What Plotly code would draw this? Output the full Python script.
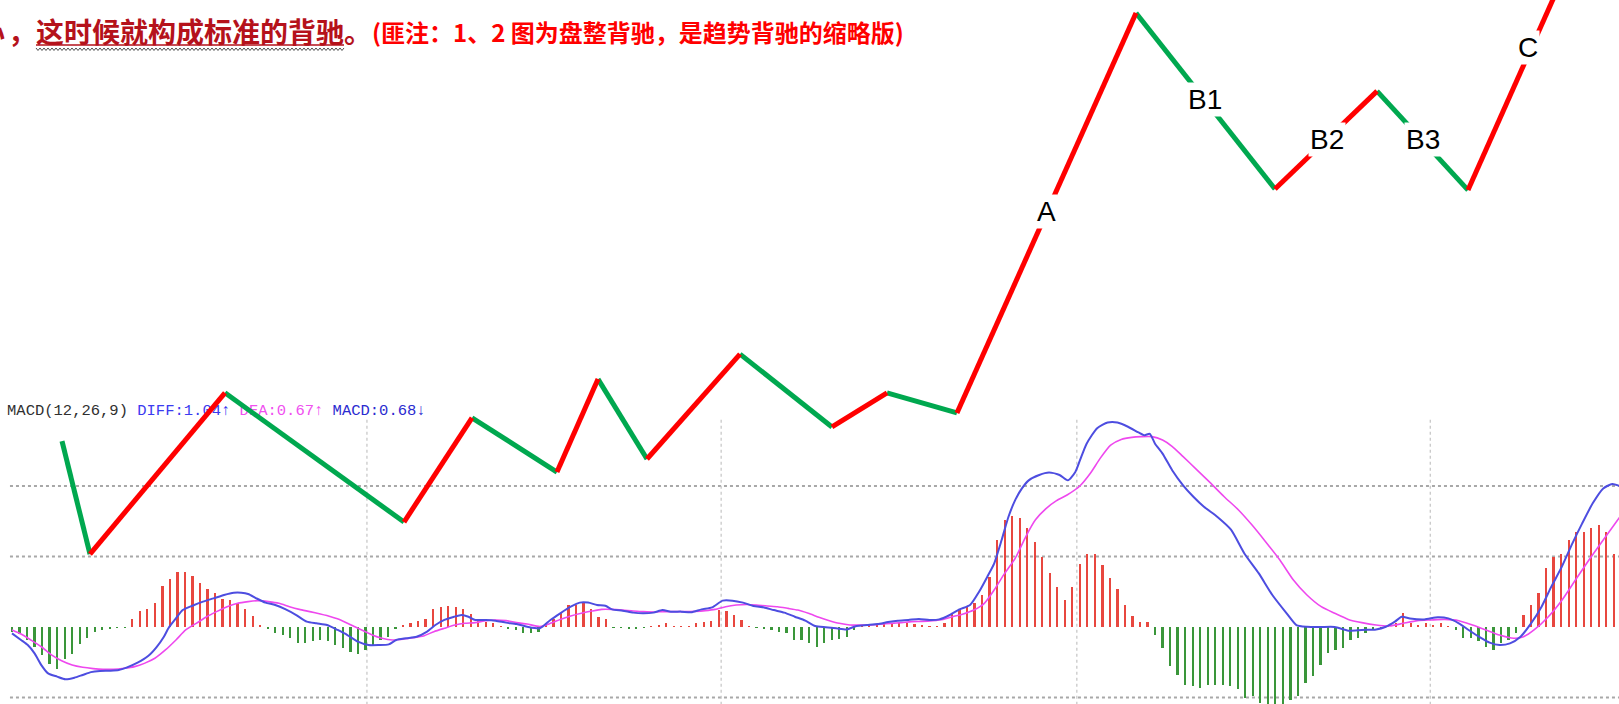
import plotly.graph_objects as go

# ---------------- data ----------------
# zig-zag pivots (bar index, price)
PIVOT_X = [6.65, 10.37, 28.32, 52.13, 61.17, 72.47, 77.93, 84.44, 96.81, 109.04,
           116.36, 125.66, 149.47, 167.95, 181.52, 193.62, 206.65]
PIVOT_P = [7.47, 4.26, 8.84, 5.17, 8.13, 6.59, 9.23, 6.96, 9.94, 7.87,
           8.84, 8.27, 19.63, 14.63, 17.41, 14.60, 20.85]

SEG_LABELS = ["A", "B1", "B2", "B3", "C"]
SEG_LABEL_X = [137.6, 158.6, 174.9, 187.6, 201.6]
SEG_LABEL_P = [13.98, 17.16, 16.05, 16.05, 18.64]

# MACD histogram, one value per bar (index 0..213)
MACD_HIST = [
    -0.033, -0.05, -0.09, -0.14, -0.20, -0.26, -0.30, -0.23, -0.19, -0.12,
    -0.076, -0.033, -0.02, -0.012, -0.007, -0.005, 0.054, 0.11, 0.125, 0.17,
    0.29, 0.34, 0.39, 0.39, 0.36, 0.31, 0.27, 0.24, 0.20, 0.19,
    0.17, 0.13, 0.08, 0.014, -0.01, -0.045, -0.057, -0.08, -0.116, -0.116,
    -0.10, -0.09, -0.10, -0.13, -0.15, -0.175, -0.19, -0.16, -0.13, -0.09,
    -0.07, -0.01, 0.014, 0.03, 0.045, 0.06, 0.125, 0.14, 0.15, 0.145,
    0.125, 0.09, 0.054, 0.038, 0.026, 0.007, -0.01, -0.02, -0.045, -0.045,
    -0.033, 0.026, 0.06, 0.10, 0.156, 0.156, 0.168, 0.13, 0.073, 0.06,
    -0.003, -0.005, -0.01, -0.01, -0.005, 0.002, 0.014, 0.026, 0.007, 0.002,
    0.002, 0.026, 0.038, 0.045, 0.12, 0.11, 0.085, 0.05, 0.007, -0.002,
    -0.01, -0.02, -0.033, -0.04, -0.09, -0.09, -0.116, -0.14, -0.116, -0.09,
    -0.087, -0.07, -0.02, 0.002, 0.01, 0.015, 0.02, 0.026, 0.03, 0.026,
    0.021, 0.014, 0.007, 0.007, 0.026, 0.097, 0.12, 0.144, 0.168, 0.227,
    0.357, 0.617, 0.76, 0.79, 0.77, 0.70, 0.60, 0.50, 0.38, 0.286,
    0.19, 0.286, 0.45, 0.52, 0.52, 0.44, 0.345, 0.267, 0.156, 0.078,
    0.038, 0.035, -0.057, -0.15, -0.28, -0.34, -0.41, -0.42, -0.435, -0.41,
    -0.41, -0.41, -0.42, -0.44, -0.50, -0.49, -0.54, -0.56, -0.57, -0.57,
    -0.52, -0.49, -0.40, -0.35, -0.27, -0.187, -0.163, -0.15, -0.09, -0.08,
    -0.045, -0.02, -0.01, 0.002, 0.026, 0.10, 0.026, 0.014, 0.026, 0.014,
    0.026, 0.007, -0.02, -0.08, -0.08, -0.10, -0.14, -0.163, -0.116, -0.09,
    -0.045, 0.085, 0.156, 0.24, 0.416, 0.50, 0.52, 0.617, 0.676, 0.676,
    0.70, 0.72, 0.676, 0.52,
]

DIFF_X = [0, 1.2, 2.1, 3.0, 3.9, 4.8, 6.0, 7.1, 8.3, 9.4, 10.5, 11.7, 13.0, 14.2, 15.3,
          16.7, 18.1, 19.2, 20.2, 20.8, 21.8, 22.7, 24.0, 25.4, 26.8, 28.2, 29.5, 30.5,
          31.4, 32.5, 33.7, 35.0, 36.4, 37.8, 39.2, 40.5, 41.9, 43.3, 44.6, 46.0, 47.4,
          48.8, 50.1, 51.1, 52.4, 53.8, 55.2, 56.3, 57.5, 58.8, 59.8, 60.7, 61.6, 63.0,
          64.3, 65.7, 67.1, 68.5, 70.2, 71.6, 72.9, 74.3, 75.5, 76.6, 77.8, 78.9, 79.8,
          81.2, 82.6, 83.9, 85.3, 86.5, 87.6, 89.0, 90.3, 91.7, 93.1, 94.5, 95.8, 97.2,
          98.6, 100.0, 101.3, 102.7, 104.1, 105.5, 106.8, 108.2, 109.6, 111.0, 112.3,
          113.7, 115.1, 116.5, 117.8, 119.2, 120.6, 122.0, 123.3, 124.7, 126.0, 127.4,
          128.6, 129.7, 130.6, 131.6, 132.5, 133.4, 134.3, 135.2, 136.6, 137.9, 139.3,
          140.4, 141.4, 142.0, 142.9, 144.3, 145.7, 147.0, 148.4, 149.8, 150.6, 151.3,
          152.0, 153.0, 154.3, 155.7, 157.1, 158.5, 160.3, 162.1, 163.9, 165.8, 167.6,
          169.5, 170.8, 172.2, 174.0, 175.9, 177.7, 179.5, 181.4, 182.7, 183.9, 184.8,
          185.9, 187.8, 189.6, 191.0, 192.4, 193.7, 195.1, 196.5, 197.8, 199.2, 200.6,
          202.0, 203.4, 204.7, 206.1, 207.5, 208.8, 210.2, 211.6, 212.8, 213.8]
DIFF_Y = [-0.045, -0.092, -0.128, -0.187, -0.27, -0.329, -0.352, -0.371, -0.36, -0.34,
          -0.32, -0.312, -0.31, -0.305, -0.286, -0.253, -0.206, -0.144, -0.069, -0.009,
          0.061, 0.12, 0.151, 0.18, 0.203, 0.227, 0.243, 0.243, 0.234, 0.203,
          0.173, 0.156, 0.125, 0.085, 0.038, 0.026, 0.014, -0.021, -0.057, -0.104,
          -0.128, -0.128, -0.123, -0.092, -0.08, -0.069, -0.033, 0.014, 0.05, 0.073,
          0.085, 0.073, 0.05, 0.05, 0.045, 0.031, 0.021, 0.002, -0.009, 0.05,
          0.097, 0.144, 0.173, 0.173, 0.156, 0.151, 0.125, 0.116, 0.102, 0.097,
          0.102, 0.12, 0.109, 0.109, 0.104, 0.125, 0.139, 0.187, 0.187, 0.173,
          0.149, 0.139, 0.12, 0.102, 0.073, 0.045, 0.007, -0.002, -0.009, -0.017,
          0.007, 0.014, 0.021, 0.035, 0.045, 0.05, 0.057, 0.05, 0.054, 0.085,
          0.125, 0.156, 0.25, 0.357, 0.45, 0.617, 0.78, 0.90, 0.983, 1.04,
          1.078, 1.095, 1.078, 1.04, 1.10, 1.18, 1.30, 1.41, 1.45, 1.45,
          1.42, 1.38, 1.36, 1.37, 1.30, 1.23, 1.11, 1.007, 0.924, 0.853,
          0.78, 0.69, 0.52, 0.38, 0.227, 0.097, 0.014, 0.002, 0.0, 0.0,
          -0.026, -0.021, -0.017, 0.002, 0.038, 0.073, 0.061, 0.054, 0.069, 0.061,
          0.026, -0.021, -0.069, -0.111, -0.128, -0.116, -0.069, 0.026, 0.144, 0.286,
          0.428, 0.593, 0.735, 0.877, 0.983, 1.014, 1.0]

DEA_X = [0, 1.2, 2.5, 3.9, 5.3, 6.6, 8.0, 9.4, 10.8, 12.1, 13.5, 14.9, 16.3, 17.6, 19.0,
         20.4, 21.8, 23.1, 24.5, 25.9, 27.2, 28.6, 30.0, 31.4, 32.7, 34.1, 35.5, 36.9,
         38.2, 39.6, 41.0, 42.4, 43.7, 45.1, 46.5, 47.9, 49.2, 50.6, 52.0, 53.3, 54.7,
         56.1, 57.5, 58.9, 60.2, 61.6, 63.0, 64.3, 65.7, 67.1, 68.5, 70.2, 71.6, 72.9,
         74.3, 75.7, 77.1, 78.4, 79.8, 81.2, 82.6, 83.9, 85.3, 86.7, 88.1, 89.4, 90.8,
         92.2, 93.5, 94.9, 96.3, 97.7, 99.0, 100.4, 101.8, 103.2, 104.5, 105.9, 107.3,
         108.7, 110.0, 111.4, 112.8, 114.2, 115.5, 116.9, 118.3, 119.6, 121.0, 122.4,
         123.8, 125.1, 126.5, 127.9, 129.3, 130.6, 132.0, 133.4, 134.8, 136.1, 137.5,
         138.9, 140.3, 142.0, 143.4, 144.7, 146.1, 147.5, 148.9, 150.2, 151.6, 153.0,
         154.3, 155.7, 157.6, 159.4, 161.2, 163.1, 164.9, 166.7, 168.6, 170.4, 172.2,
         174.1, 175.9, 177.7, 179.5, 181.4, 183.2, 185.0, 186.9, 188.7, 190.5, 192.4,
         194.2, 196.0, 197.8, 199.7, 201.0, 202.4, 204.3, 206.1, 207.9, 209.7, 211.6,
         213.8]
DEA_Y = [-0.021, -0.05, -0.092, -0.14, -0.2, -0.24, -0.27, -0.286, -0.295, -0.30,
         -0.30, -0.293, -0.281, -0.258, -0.222, -0.163, -0.092, -0.021, 0.026, 0.073,
         0.109, 0.144, 0.168, 0.18, 0.187, 0.18, 0.168, 0.144, 0.125, 0.109,
         0.092, 0.073, 0.05, 0.014, -0.021, -0.057, -0.08, -0.092, -0.087, -0.076,
         -0.064, -0.033, -0.009, 0.014, 0.026, 0.031, 0.045, 0.05, 0.045, 0.031,
         0.021, 0.004, 0.026, 0.054, 0.078, 0.097, 0.113, 0.125, 0.125, 0.12,
         0.113, 0.109, 0.106, 0.109, 0.109, 0.109, 0.111, 0.116, 0.125, 0.144,
         0.156, 0.16, 0.156, 0.149, 0.144, 0.132, 0.12, 0.097, 0.069, 0.045,
         0.026, 0.014, 0.014, 0.014, 0.019, 0.026, 0.031, 0.038, 0.04, 0.045,
         0.054, 0.073, 0.092, 0.12, 0.168, 0.262, 0.38, 0.487, 0.64, 0.76,
         0.84, 0.896, 0.936, 1.0, 1.09, 1.196, 1.29, 1.33, 1.345, 1.35,
         1.35, 1.326, 1.28, 1.21, 1.113, 1.02, 0.924, 0.83, 0.723, 0.605,
         0.475, 0.333, 0.227, 0.144, 0.097, 0.054, 0.031, 0.014, 0.007, 0.026,
         0.045, 0.05, 0.054, 0.045, 0.014, -0.021, -0.057, -0.08, -0.069, -0.021,
         0.073, 0.19, 0.333, 0.475, 0.617, 0.78]

GRID_VALUES = [-0.5, 0.5, 1.0]
VGRID_BARS = [47.2, 94.3, 141.6, 188.6]

MACD_LABEL = ("MACD(12,26,9) ", "DIFF:1.04↑ ", "DEA:0.67↑ ", "MACD:0.68↓")

TITLE_CUT = "心"
TITLE_MAIN = "，这时候就构成标准的背驰。"
TITLE_NOTE = "(匪注：1、2 图为盘整背驰，是趋势背驰的缩略版)"

# ---------------- figure ----------------
W, H = 1619, 704
BAR_PX = 7.52
X0_PX = 12
x_lo = -X0_PX / BAR_PX
x_hi = x_lo + W / BAR_PX
ZERO_PX = 627
UNIT_PX = 141.0
y_lo = -(H - ZERO_PX) / UNIT_PX
y_hi = ZERO_PX / UNIT_PX

fig = go.Figure()

# histogram
bar_x = list(range(len(MACD_HIST)))
bar_colors = ["#e8473f" if v >= 0 else "#3a963a" for v in MACD_HIST]
fig.add_trace(go.Bar(x=bar_x, y=MACD_HIST, marker=dict(color=bar_colors, line=dict(width=0)),
                     width=0.3, yaxis="y"))

fig.add_trace(go.Scatter(x=DEA_X, y=DEA_Y, mode="lines",
                         line=dict(color="#ee48ee", width=1.6, shape="spline", smoothing=0.6), yaxis="y"))
fig.add_trace(go.Scatter(x=DIFF_X, y=DIFF_Y, mode="lines",
                         line=dict(color="#4d4de0", width=2, shape="spline", smoothing=0.6), yaxis="y"))

label_html = (f"<span style='color:#303030'>{MACD_LABEL[0]}</span>"
              f"<span style='color:#3b3bf0'>{MACD_LABEL[1]}</span>"
              f"<span style='color:#f050f0'>{MACD_LABEL[2]}</span>"
              f"<span style='color:#2b2bd0'>{MACD_LABEL[3]}</span>")
fig.add_trace(go.Scatter(x=[-0.66], y=[1.53], mode="text", text=[label_html], textposition="middle right",
                         textfont=dict(family="Liberation Mono", size=15.5), yaxis="y"))

# zig-zag
up_x, up_y, dn_x, dn_y = [], [], [], []
for k in range(len(PIVOT_X) - 1):
    seg_x = [PIVOT_X[k], PIVOT_X[k + 1], None]
    seg_y = [PIVOT_P[k], PIVOT_P[k + 1], None]
    if PIVOT_P[k + 1] > PIVOT_P[k]:
        up_x += seg_x; up_y += seg_y
    else:
        dn_x += seg_x; dn_y += seg_y
fig.add_trace(go.Scatter(x=dn_x, y=dn_y, mode="lines", line=dict(color="#00a84f", width=5), yaxis="y2"))
fig.add_trace(go.Scatter(x=up_x, y=up_y, mode="lines", line=dict(color="#ff0000", width=5), yaxis="y2"))

# segment labels
for t, lx, lp in zip(SEG_LABELS, SEG_LABEL_X, SEG_LABEL_P):
    fig.add_annotation(x=lx, y=lp, xref="x", yref="y2", text=t, showarrow=False,
                       font=dict(family="Liberation Sans, Arial", size=28, color="#000000"),
                       bgcolor="#ffffff", borderpad=1)

shapes = []
# horizontal dotted grid
for g in GRID_VALUES:
    shapes.append(dict(type="line", xref="x", yref="y", x0=-0.27, x1=x_hi, y0=g, y1=g,
                       line=dict(color="#a8a8a8", width=2, dash="dot"), layer="below"))
# vertical dotted grid
for vx in VGRID_BARS:
    shapes.append(dict(type="line", xref="x", yref="y", x0=vx, x1=vx, y0=1.47, y1=y_lo,
                       line=dict(color="#c4c4c4", width=1.2, dash="dot"), layer="below"))

# title text
def px(xp):
    return xp / W

def py(yp):
    return 1 - yp / H

fig.add_annotation(x=px(7), y=py(31), xref="paper", yref="paper", xanchor="right", yanchor="middle",
                   text=f"<b>{TITLE_CUT}</b>", showarrow=False,
                   font=dict(family="Noto Sans CJK SC", size=28, color="#b5121b"))
fig.add_annotation(x=px(6), y=py(31), xref="paper", yref="paper", xanchor="left", yanchor="middle",
                   text=f"<b>{TITLE_MAIN}</b>", showarrow=False,
                   font=dict(family="Noto Sans CJK SC", size=28, color="#b5121b"))
fig.add_annotation(x=px(370), y=py(31), xref="paper", yref="paper", xanchor="left", yanchor="middle",
                   text=f"<b>{TITLE_NOTE}</b>", showarrow=False,
                   font=dict(family="Noto Sans CJK SC", size=24, color="#ff0000"))
# underline + spell-check squiggle
shapes.append(dict(type="line", xref="paper", yref="paper", x0=px(36), x1=px(344), y0=py(45), y1=py(45),
                   line=dict(color="#b5121b", width=1.5)))
pts = []
xx = 36
k = 0
while xx <= 344:
    yy = 48 if k % 2 == 0 else 50.5
    pts.append(f"{px(xx):.5f},{py(yy):.5f}")
    xx += 2
    k += 1
path = "M " + " L ".join(pts)
shapes.append(dict(type="path", xref="paper", yref="paper", path=path, line=dict(color="#505050", width=1)))

fig.update_layout(
    width=W, height=H, margin=dict(l=0, r=0, t=0, b=0),
    paper_bgcolor="#ffffff", plot_bgcolor="#ffffff", showlegend=False,
    bargap=0,
    xaxis=dict(range=[x_lo, x_hi], visible=False, fixedrange=True),
    yaxis=dict(range=[y_lo, y_hi], visible=False, fixedrange=True),
    yaxis2=dict(range=[0, H / 35.2], visible=False, overlaying="y", fixedrange=True),
    shapes=shapes,
)

fig.write_html("out.html", config={"displayModeBar": False},
               post_script="document.body.style.margin='0';document.body.style.overflow='hidden';")
